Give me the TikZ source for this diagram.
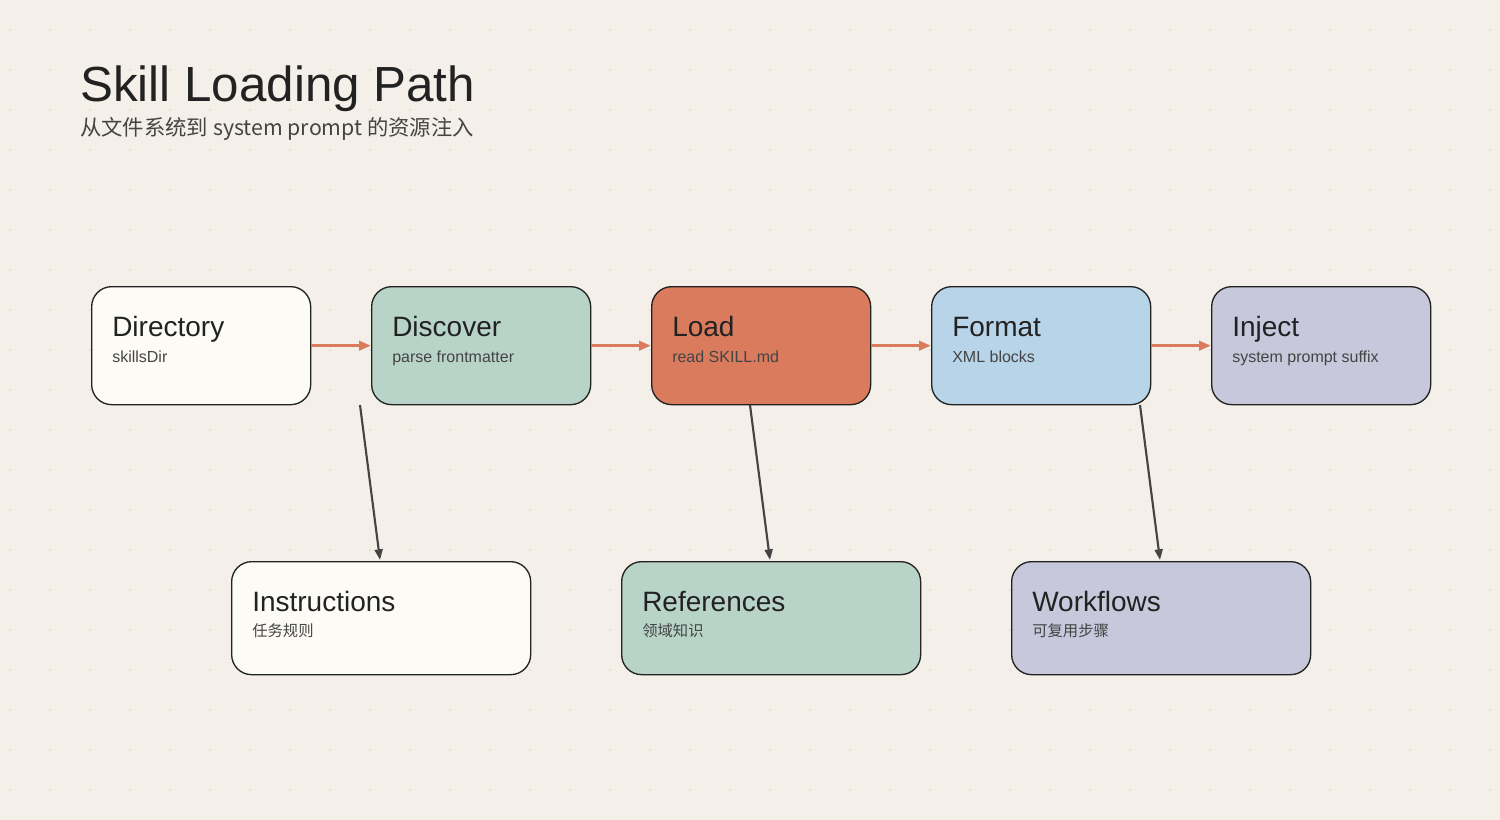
\documentclass[tikz,border=0pt]{standalone}
\usepackage{fontspec}
\setmainfont{Liberation Sans}
\newfontfamily\cjk{Noto Sans CJK SC}
\usetikzlibrary{arrows.meta}
\definecolor{bg}{HTML}{F4F0E9}
\definecolor{cwhite}{HTML}{FDFBF6}
\definecolor{cgreen}{HTML}{B8D4C8}
\definecolor{corange}{HTML}{D97B5C}
\definecolor{cblue}{HTML}{B8D4E8}
\definecolor{cpurple}{HTML}{C8C8DC}
\definecolor{ink}{HTML}{222222}
\definecolor{sub}{HTML}{444444}
\definecolor{dotc}{HTML}{D8D2C6}
\begin{document}
\begin{tikzpicture}[x=0.75pt,y=-0.75pt,
  box/.style={draw=ink,line width=1pt,rounded corners=15pt,minimum width=219*0.75pt,minimum height=118*0.75pt,anchor=north west},
  bbox/.style={box,minimum width=299*0.75pt,minimum height=113*0.75pt},
  ttl/.style={anchor=base west,font=\fontsize{21}{24}\selectfont,text=ink,inner sep=0},
  sbt/.style={anchor=base west,font=\fontsize{12}{14}\selectfont,text=sub,inner sep=0},
  sbc/.style={anchor=base west,font=\cjk\fontsize{11.5}{14}\selectfont,text=sub,inner sep=0},
  flow/.style={-{Triangle[length=9pt,width=7pt]},draw=corange,line width=2.2pt,shorten >=0pt},
  down/.style={-{Triangle[length=8pt,width=6pt]},draw=sub,line width=1.6pt}]
\fill[bg] (0,0) rectangle (1500,820);
\useasboundingbox (0,0) rectangle (1500,820);
\foreach \i in {0,...,37}{\foreach \j in {0,...,19}{\fill[dotc] (10+40*\i,30+40*\j) circle (0.7pt);}}
\node[anchor=base west,inner sep=0,font=\fontsize{37}{40}\selectfont,text=ink] (title) at (80,102) {Skill Loading Path};
\node[anchor=base west,inner sep=0,font=\cjk\fontsize{16}{18}\selectfont,text=sub] (subt) at (80,136) {从文件系统到 system prompt 的资源注入};
\node[box,fill=cwhite] (dir) at (91,286) {};
\node[box,fill=cgreen] (dis) at (371,286) {};
\node[box,fill=corange] (load) at (651,286) {};
\node[box,fill=cblue] (fmt) at (931,286) {};
\node[box,fill=cpurple] (inj) at (1211,286) {};
\node[bbox,fill=cwhite] (ins) at (231,561) {};
\node[bbox,fill=cgreen] (ref) at (621,561) {};
\node[bbox,fill=cpurple] (wf) at (1011,561) {};
\node[ttl] (t1) at (112,336) {Directory}; \node[sbt] (s1) at (112,362) {skillsDir};
\node[ttl] (t2) at (392,336) {Discover}; \node[sbt] (s2) at (392,362) {parse frontmatter};
\node[ttl] (t3) at (672,336) {Load}; \node[sbt] (s3) at (672,362) {read SKILL.md};
\node[ttl] (t4) at (952,336) {Format}; \node[sbt] (s4) at (952,362) {XML blocks};
\node[ttl] (t5) at (1232,336) {Inject}; \node[sbt] (s5) at (1232,362) {system prompt suffix};
\node[ttl] (t6) at (252,611) {Instructions}; \node[sbc] (s6) at (252,636) {任务规则};
\node[ttl] (t7) at (642,611) {References}; \node[sbc] (s7) at (642,636) {领域知识};
\node[ttl] (t8) at (1032,611) {Workflows}; \node[sbc] (s8) at (1032,636) {可复用步骤};
\draw[flow] (dir.east) -- (dis.west);
\draw[flow] (dis.east) -- (load.west);
\draw[flow] (load.east) -- (fmt.west);
\draw[flow] (fmt.east) -- (inj.west);
\coordinate (a1) at (360,405); \coordinate (b1) at (380,560);
\coordinate (a2) at (750,405); \coordinate (b2) at (770,560);
\coordinate (a3) at (1140,405); \coordinate (b3) at (1160,560);
\draw[down] (a1) -- (b1);
\draw[down] (a2) -- (b2);
\draw[down] (a3) -- (b3);
\end{tikzpicture}
\end{document}
